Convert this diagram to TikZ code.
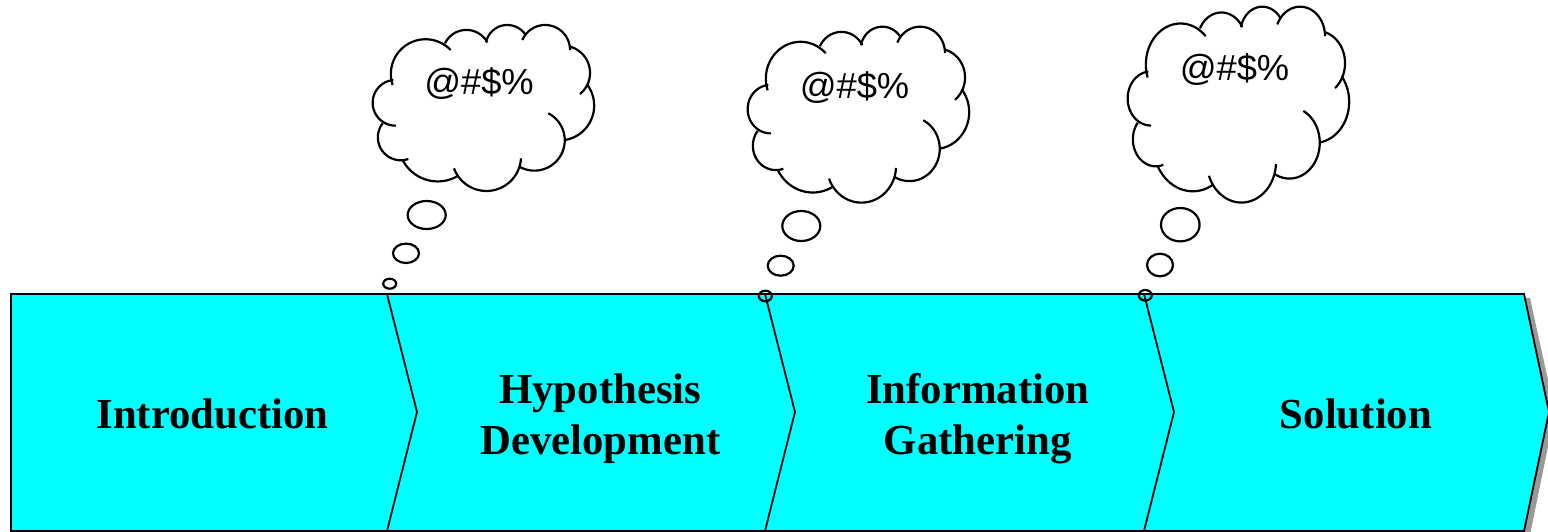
\documentclass[tikz,border=0pt]{standalone}
\usepackage{fontspec}
\setmainfont{Liberation Serif}
\newfontfamily\cloudfont{Liberation Sans}
\definecolor{bandcyan}{rgb}{0,1,1}
\definecolor{bandshadow}{rgb}{0.6,0.6,0.6}
% circular arc through three points, given in hundreds of local units
\newcommand{\threeptarc}[6]{%
\pgfmathsetmacro{\xa}{#1/100}\pgfmathsetmacro{\ya}{#2/100}%
\pgfmathsetmacro{\xb}{#3/100}\pgfmathsetmacro{\yb}{#4/100}%
\pgfmathsetmacro{\xc}{#5/100}\pgfmathsetmacro{\yc}{#6/100}%
\pgfmathsetmacro{\dd}{2*(\xa*(\yb-\yc)+\xb*(\yc-\ya)+\xc*(\ya-\yb))}%
\pgfmathsetmacro{\sa}{\xa*\xa+\ya*\ya}\pgfmathsetmacro{\sb}{\xb*\xb+\yb*\yb}\pgfmathsetmacro{\sc}{\xc*\xc+\yc*\yc}%
\pgfmathsetmacro{\cx}{(\sa*(\yb-\yc)+\sb*(\yc-\ya)+\sc*(\ya-\yb))/\dd}%
\pgfmathsetmacro{\cy}{(\sa*(\xc-\xb)+\sb*(\xa-\xc)+\sc*(\xb-\xa))/\dd}%
\pgfmathsetmacro{\rr}{sqrt((\xa-\cx)^2+(\ya-\cy)^2)}%
\pgfmathsetmacro{\aa}{atan2(\ya-\cy,\xa-\cx)}%
\pgfmathsetmacro{\ab}{mod(atan2(\yb-\cy,\xb-\cx)-\aa+720,360)}%
\pgfmathsetmacro{\ac}{mod(atan2(\yc-\cy,\xc-\cx)-\aa+720,360)}%
\pgfmathsetmacro{\ae}{\ab<\ac ? \aa+\ac : \aa+\ac-360}%
\draw[cloudline] plot[domain=\aa:\ae,samples=48] ({100*(\cx+\rr*cos(\x))},{100*(\cy+\rr*sin(\x))});%
}
\newcommand{\cloudshape}[3]{%
\begin{scope}[shift={(#1,#2)},x=0.3333pt,y=#3pt]
\threeptarc{98}{225}{135}{108}{272}{120}
\threeptarc{255}{100}{325}{60}{382}{97}
\threeptarc{378}{97}{443}{45}{497}{75}
\threeptarc{487}{90}{555}{45}{630}{120}
\threeptarc{630}{110}{688}{170}{660}{252}
\threeptarc{680}{222}{700}{310}{615}{390}
\threeptarc{565}{310}{600}{440}{478}{470}
\threeptarc{483}{445}{380}{543}{282}{475}
\threeptarc{295}{497}{210}{512}{128}{450}
\threeptarc{145}{447}{65}{420}{68}{340}
\threeptarc{108}{347}{38}{280}{100}{210}
\end{scope}}
\tikzset{
  cloudline/.style={black,line width=2.2pt},
  bubble/.style={black,line width=2.2pt},
  stageline/.style={black,line width=1.8pt},
  stagelabel/.style={align=center,inner sep=0pt,font=\fontsize{42.8}{51}\selectfont\bfseries},
  cloudtext/.style={inner sep=0pt,font=\fontsize{36.3}{40}\selectfont\cloudfont}
}
\begin{document}
\begin{tikzpicture}[x=1pt,y=-1pt]
\useasboundingbox (0,0) rectangle (1548,532);
% shadow and band
\fill[bandshadow] (1530,298) -- (1555,412) -- (1530,535) -- (1520,535) -- (1520,298) -- cycle;
\draw[stageline,fill=bandcyan] (11,294) -- (1524,294) -- (1549,412) -- (1524,531) -- (11,531) -- cycle;
\draw[stageline] (387,294) -- (417,412) -- (387,531);
\draw[stageline] (765,294) -- (795,412) -- (765,531);
\draw[stageline] (1144,294) -- (1174,412) -- (1144,531);
% labels
\node[stagelabel] (intro) at (212.5,414) {Introduction};
\node[stagelabel] (hypo) at (600.3,418.7) {Hypothesis\\Development};
\node[stagelabel] (info) at (977.8,418.7) {Information\\Gathering};
\node[stagelabel] (sol) at (1356,414) {Solution};
% clouds
\cloudshape{360}{10}{-0.3333}
\cloudshape{735}{10.8}{-0.3533}
\cloudshape{1115}{-11}{-0.3933}
\node[cloudtext] (t1) at (479,83.5) {@\#\$\%};
\node[cloudtext] (t2) at (854.5,87.5) {@\#\$\%};
\node[cloudtext] (t3) at (1234.5,69.5) {@\#\$\%};
% bubbles
\draw[bubble] (426.7,215) ellipse [x radius=19,y radius=14];
\draw[bubble] (406,253.3) ellipse [x radius=13,y radius=9.7];
\draw[bubble] (389.7,283.7) ellipse [x radius=6.5,y radius=5];
\draw[bubble] (801.3,226) ellipse [x radius=19,y radius=15];
\draw[bubble] (780.7,265.7) ellipse [x radius=13,y radius=10];
\draw[bubble] (765.3,296) ellipse [x radius=6.5,y radius=5.3];
\draw[bubble] (1180.3,224.7) ellipse [x radius=19.3,y radius=16.7];
\draw[bubble] (1160,265) ellipse [x radius=13,y radius=11.3];
\draw[bubble] (1145.3,295.3) ellipse [x radius=6.5,y radius=5.3];
\end{tikzpicture}
\end{document}
